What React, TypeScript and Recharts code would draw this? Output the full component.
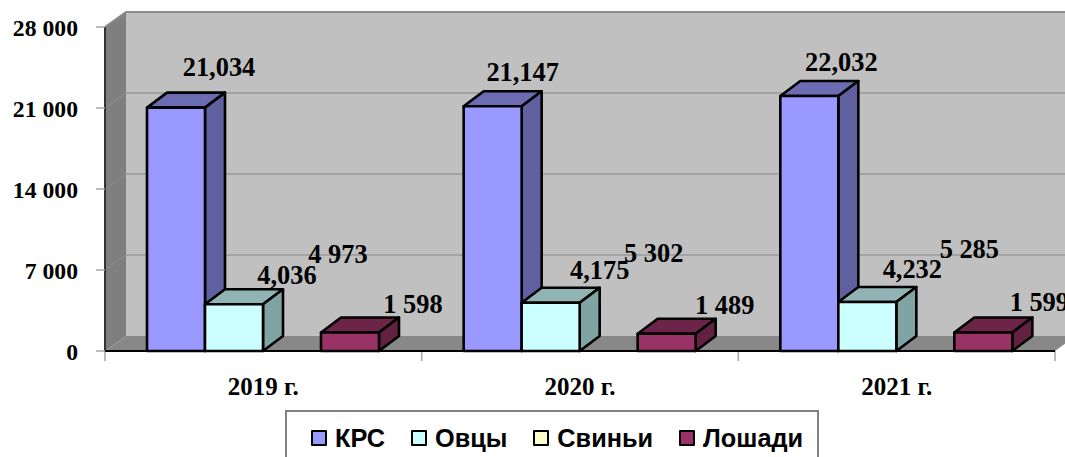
import {
	BarChart,
	Bar,
	XAxis,
	YAxis,
	Legend,
	LabelList,
	ReferenceArea,
	ReferenceLine,
} from "recharts";

const categories = ["2019 г.", "2020 г.", "2021 г."];
const krs = [21034, 21147, 22032];
const ovtsy = [4036, 4175, 4232];
const svini = [4973, 5302, 5285];
const loshadi = [1598, 1489, 1599];
const yTicks = [0, 7000, 14000, 21000, 28000];

const data = categories.map((label, i) => ({
	label,
	krs: krs[i],
	ovtsy: ovtsy[i],
	svini: svini[i],
	loshadi: loshadi[i],
}));

// Depth of the fake 3D box
const DX = 20;
const DY = -15;
const SERIF = "'Liberation Serif', serif";

// The labels were dragged by hand in the original, so each has its own nudge
const krsShift = [[43, -41], [30, -34], [32, -34]];
const ovtsyShift = [[53, -29], [49, -33], [45, -33]];
const sviniShift = [[46, -39], [45, -37], [44, -41]];
const loshadiShift = [[63, -29], [58, -29], [56, -30]];

const spaced = (v: number) => String(v).replace(/\B(?=(\d{3})+$)/g, " ");
const comma = (v: number) => String(v).replace(/\B(?=(\d{3})+$)/g, ",");

const Box3D = (props: any) => {
	const { x, y, width, height, fill, top, side } = props;
	const r = x + width;
	const b = y + height;
	return (
		<g stroke="#000" strokeWidth={2.6} strokeLinejoin="round">
			<polygon
				points={`${x},${y} ${x + DX},${y + DY} ${r + DX},${y + DY} ${r},${y}`}
				fill={top}
			/>
			<polygon
				points={`${r},${y} ${r + DX},${y + DY} ${r + DX},${b + DY} ${r},${b}`}
				fill={side}
			/>
			<rect x={x} y={y} width={width} height={height} fill={fill} />
		</g>
	);
};

const Walls = (props: any) => {
	const { x, y, width, height } = props;
	const r = x + width;
	const b = y + height;
	const step = width / categories.length;
	return (
		<g>
			<rect x={x + DX + 1} y={y + DY} width={width} height={height} fill="#c0c0c0" />
			<polygon
				points={`${x},${y} ${x + DX + 1},${y + DY} ${x + DX + 1},${b + DY} ${x},${b}`}
				fill="#7f7f7f"
			/>
			<polygon
				points={`${x},${b} ${x + DX + 1},${b + DY} ${r + DX + 1},${b + DY} ${r},${b}`}
				fill="#888888"
			/>
			<polyline
				points={`${x},${y} ${x + DX + 1},${y + DY} ${r + DX + 1},${y + DY}`}
				fill="none"
				stroke="#8a8a8a"
				strokeWidth={2}
			/>
			{[0, 1, 2, 3].map((i) => (
				<line
					key={i}
					x1={x + step * i}
					x2={x + step * i}
					y1={b}
					y2={b + 10}
					stroke="#a6a6a6"
					strokeWidth={1.5}
				/>
			))}
		</g>
	);
};

const BackGridLine = (props: any) => {
	const { x1, y1, x2 } = props;
	return (
		<g fill="none">
			<line x1={x1} y1={y1} x2={x1 + DX + 1} y2={y1 + DY} stroke="#8e8e8e" />
			<line
				x1={x1 + DX + 1}
				y1={y1 + DY}
				x2={x2 + DX + 1}
				y2={y1 + DY}
				stroke="#868686"
			/>
		</g>
	);
};

const makeLabel =
	(shift: number[][], format: (v: number) => string) => (props: any) => {
		const { x, y, width, value, index } = props;
		return (
			<text
				x={x + width / 2 + shift[index][0]}
				y={y + shift[index][1]}
				textAnchor="middle"
				dominantBaseline="central"
				fontFamily={SERIF}
				fontWeight="bold"
				fontSize={26.4}
				fill="#000"
			>
				{format(value)}
			</text>
		);
	};

const LegendBox = (props: any) => (
	<div
		style={{
			boxSizing: "border-box",
			width: 534,
			height: 70,
			paddingTop: 11,
			paddingLeft: 24,
			display: "flex",
			background: "#fff",
			border: "2px solid #808080",
			fontFamily: "'Liberation Sans', sans-serif",
			fontWeight: "bold",
			fontSize: 25.3,
			color: "#000",
		}}
	>
		{props.payload.map((item: any) => (
			<div
				key={item.value}
				style={{ display: "flex", alignItems: "center", height: 30, marginRight: 26 }}
			>
				<span
					style={{
						boxSizing: "border-box",
						width: 16,
						height: 16,
						marginRight: 8,
						background: item.color,
						border: "2.5px solid #000",
						borderRadius: 1,
					}}
				/>
				{item.value}
			</div>
		))}
	</div>
);

function App() {
	return (
		<div
			style={{
				position: "absolute",
				left: 0,
				top: 0,
				width: 1065,
				height: 457,
				overflow: "hidden",
				background: "#fff",
			}}
		>
			<BarChart
				width={1065}
				height={457}
				data={data}
				margin={{ top: 27, right: 10, bottom: 46, left: 5 }}
				barSize={58}
				barGap={0}
			>
				<XAxis
					dataKey="label"
					height={60}
					tickLine={false}
					axisLine={{ stroke: "#000", strokeWidth: 2 }}
					tickMargin={20}
					tick={{ fontFamily: SERIF, fontWeight: "bold", fontSize: 25, fill: "#000" }}
				/>
				<YAxis
					width={100}
					domain={[0, 28000]}
					ticks={yTicks}
					interval={0}
					tickSize={9}
					tickMargin={18}
					tickLine={{ stroke: "#a6a6a6", strokeWidth: 1.5 }}
					axisLine={{ stroke: "#333", strokeWidth: 2 }}
					tickFormatter={spaced}
					tick={{ fontFamily: SERIF, fontWeight: "bold", fontSize: 23.7, fill: "#000", dy: 1 }}
				/>
				<ReferenceArea y1={0} y2={28000} shape={<Walls />} zIndex={-60} />
				{yTicks.slice(1, -1).map((t) => (
					<ReferenceLine key={t} y={t} shape={<BackGridLine />} zIndex={-50} />
				))}
				<Legend
					content={<LegendBox />}
					itemSorter={null}
					layout="horizontal"
					align="center"
					verticalAlign="middle"
					wrapperStyle={{ left: 285, top: 410, width: 534, height: 70 }}
				/>
				<Bar
					dataKey="krs"
					name="КРС"
					fill="#9999ff"
					isAnimationActive={false}
					shape={<Box3D top="#6c6cb2" side="#6060a0" />}
				>
					<LabelList dataKey="krs" content={makeLabel(krsShift, comma)} />
				</Bar>
				<Bar
					dataKey="ovtsy"
					name="Овцы"
					fill="#ccffff"
					isAnimationActive={false}
					shape={<Box3D top="#90b3b3" side="#80a3a3" />}
				>
					<LabelList dataKey="ovtsy" content={makeLabel(ovtsyShift, comma)} />
				</Bar>
				{/* pigs only show their labels, the box is missing in the original */}
				<Bar
					dataKey="svini"
					name="Свиньи"
					fill="#ffffcc"
					isAnimationActive={false}
					shape={() => <g />}
				>
					<LabelList dataKey="svini" content={makeLabel(sviniShift, spaced)} />
				</Bar>
				<Bar
					dataKey="loshadi"
					name="Лошади"
					fill="#993366"
					isAnimationActive={false}
					shape={<Box3D top="#6c2448" side="#622141" />}
				>
					<LabelList dataKey="loshadi" content={makeLabel(loshadiShift, spaced)} />
				</Bar>
			</BarChart>
		</div>
	);
}

export default App;
